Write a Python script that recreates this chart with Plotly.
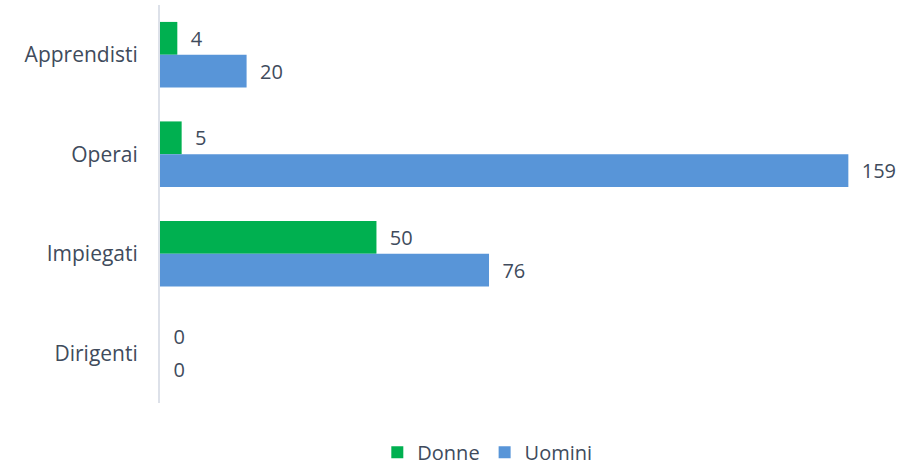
import plotly.graph_objects as go

categories = ["Apprendisti", "Operai", "Impiegati", "Dirigenti"]
donne = [4, 5, 50, 0]
uomini = [20, 159, 76, 0]

font_color = "#404b5c"
font_family = "Open Sans, Liberation Sans, sans-serif"
fs = 20

fig = go.Figure()
fig.add_trace(go.Bar(
    y=categories, x=donne, name="Donne", orientation="h",
    marker=dict(color="#00b050", line=dict(width=0)),
    text=donne, texttemplate="\u00a0\u00a0%{x}", textposition="outside",
    cliponaxis=False, textfont=dict(size=fs, color=font_color),
))
fig.add_trace(go.Bar(
    y=categories, x=uomini, name="Uomini", orientation="h",
    marker=dict(color="#5895d8", line=dict(width=0)),
    text=uomini, texttemplate="\u00a0\u00a0%{x}", textposition="outside",
    cliponaxis=False, textfont=dict(size=fs, color=font_color),
))

fig.update_layout(
    width=917, height=467,
    margin=dict(l=160, r=47, t=5, b=64, autoexpand=False),
    barmode="group", bargap=0.34, bargroupgap=0,
    plot_bgcolor="white", paper_bgcolor="white",
    font=dict(family=font_family, size=fs, color=font_color),
    showlegend=True,
    legend=dict(orientation="h", x=0.461, xanchor="center", y=-0.075, yanchor="top",
                font=dict(size=fs, color=font_color), traceorder="normal",
                itemwidth=30),
    uniformtext=dict(mode=False),
)
fig.update_xaxes(range=[0, 164], showgrid=False, showticklabels=False, zeroline=False,
                 showline=False, ticks="")
fig.update_yaxes(autorange="reversed", showgrid=False, showline=True, linecolor="#dde1e9",
                 linewidth=2, ticks="", ticklabelstandoff=16,
                 tickfont=dict(size=21, color=font_color))

fig.write_html("out.html", config={"displayModeBar": False},
               post_script="document.body.style.margin='0';")
